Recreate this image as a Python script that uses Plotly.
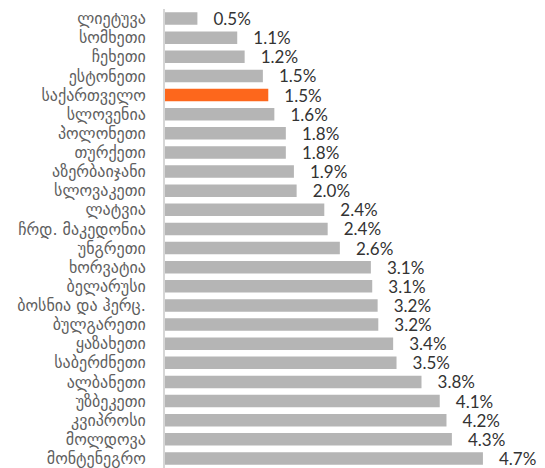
import plotly.graph_objects as go

countries = ["ლიეტუვა", "სომხეთი", "ჩეხეთი", "ესტონეთი", "საქართველო", "სლოვენია",
             "პოლონეთი", "თურქეთი", "აზერბაიჯანი", "სლოვაკეთი", "ლატვია", "ჩრდ. მაკედონია",
             "უნგრეთი", "ხორვატია", "ბელარუსი", "ბოსნია და ჰერც.", "ბულგარეთი", "ყაზახეთი",
             "საბერძნეთი", "ალბანეთი", "უზბეკეთი", "კვიპროსი", "მოლდოვა", "მონტენეგრო"]
values = [0.48, 1.07, 1.18, 1.45, 1.53, 1.62, 1.79, 1.79, 1.91, 1.95, 2.36, 2.41,
          2.59, 3.05, 3.07, 3.15, 3.16, 3.38, 3.43, 3.8, 4.07, 4.17, 4.25, 4.71]
labels = ["0.5%", "1.1%", "1.2%", "1.5%", "1.5%", "1.6%", "1.8%", "1.8%", "1.9%", "2.0%",
          "2.4%", "2.4%", "2.6%", "3.1%", "3.1%", "3.2%", "3.2%", "3.4%", "3.5%", "3.8%",
          "4.1%", "4.2%", "4.3%", "4.7%"]
highlight = "საქართველო"

colors = ["#fd671c" if c == highlight else "#b5b5b5" for c in countries]

fig = go.Figure(go.Bar(
    x=values, y=countries, orientation="h",
    marker=dict(color=colors, line=dict(width=0)),
    text=["\u00a0\u00a0\u00a0" + t for t in labels],
    textposition="outside",
    constraintext="none",
    textfont=dict(family="Lato, Roboto, sans-serif", size=17, color="#333333"),
    cliponaxis=False,
    width=0.66,
))

fig.update_layout(
    width=545, height=468,
    margin=dict(l=165, r=29, t=9, b=0),
    paper_bgcolor="white", plot_bgcolor="white",
    showlegend=False,
    xaxis=dict(range=[0, 5.2], visible=False, showgrid=False, zeroline=False),
    yaxis=dict(autorange="reversed", showgrid=False, zeroline=False,
               showline=True, linecolor="#d6d6d6", linewidth=2,
               ticks="", ticklabelstandoff=14, automargin=False,
               tickfont=dict(family="DejaVu Sans, sans-serif", size=16, color="#606060")),
)

fig.write_html("out.html", config={"displayModeBar": False},
               post_script="document.body.style.margin='0';")
